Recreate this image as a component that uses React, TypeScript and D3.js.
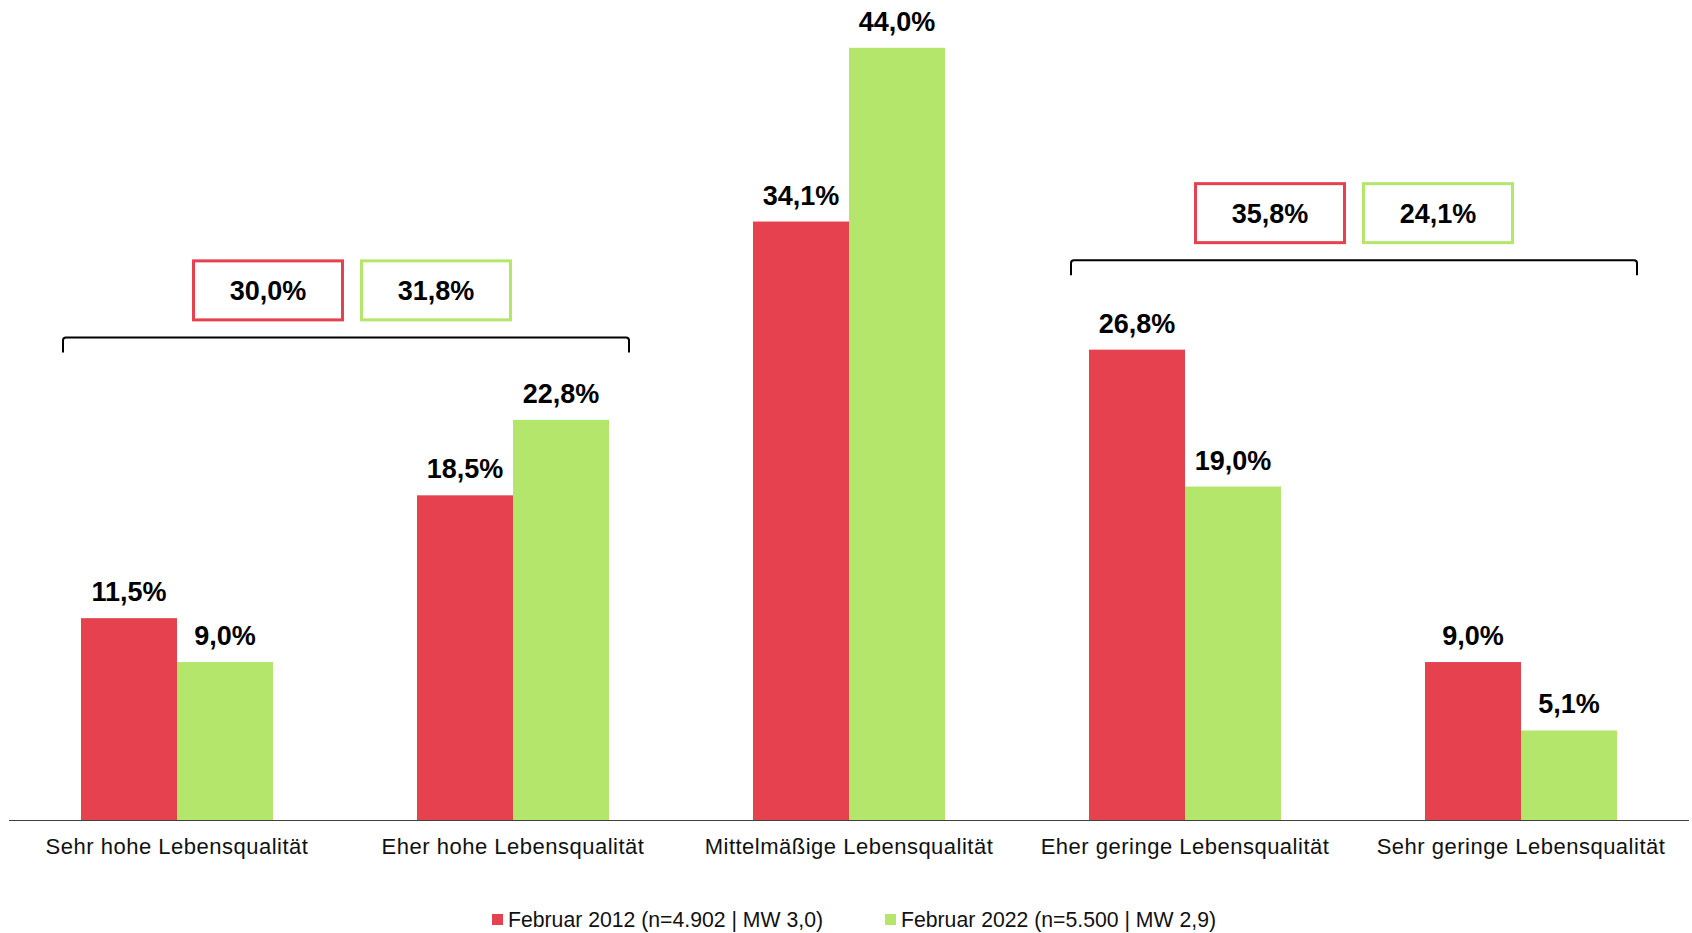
import React from "react";
import * as d3 from "d3";

const categories = [
  "Sehr hohe Lebensqualität",
  "Eher hohe Lebensqualität",
  "Mittelmäßige Lebensqualität",
  "Eher geringe Lebensqualität",
  "Sehr geringe Lebensqualität",
];
const values2012 = [11.5, 18.5, 34.1, 26.8, 9.0];
const values2022 = [9.0, 22.8, 44.0, 19.0, 5.1];
const seriesNames = ["Februar 2012 (n=4.902 | MW 3,0)", "Februar 2022 (n=5.500 | MW 2,9)"];
const groupIdx = [[0, 1], [3, 4]];
const groupSums2012 = [30.0, 35.8];
const groupSums2022 = [31.8, 24.1];
const bracketLevels = [27.5, 31.9];

const RED = "#E5414F";
const GREEN = "#B3E66A";
const FONT = "'Liberation Sans', Arial, Helvetica, sans-serif";

const fmt = (v: number) => v.toFixed(1).replace(".", ",") + "%";

export default function App() {
  const W = 1692, H = 933;
  const baseY = 820;
  const y = d3.scaleLinear().domain([0, 44]).range([baseY, baseY - 44 * 17.55]);
  const x = d3.scaleBand<string>().domain(categories).range([9, 1689]).padding(0);
  const barW = 96;
  const center = (i: number) => (x(categories[i]) as number) + x.bandwidth() / 2;

  const boxW = 152, boxH = 62, boxGap = 16;
  const pairOffsets = [6, 0];
  const valFS = 27;

  return (
    <svg width={W} height={H} style={{ position: "absolute", left: 0, top: 0, background: "#fff" }} fontFamily={FONT}>
      {categories.map((c, i) => {
        const cx = center(i);
        return (
          <g key={c}>
            <rect x={cx - barW} y={y(values2012[i])} width={barW} height={baseY - y(values2012[i])} fill={RED} />
            <rect x={cx} y={y(values2022[i])} width={barW} height={baseY - y(values2022[i])} fill={GREEN} />
            <text x={cx - barW / 2} y={y(values2012[i]) - 17} textAnchor="middle" fontSize={valFS} fontWeight="bold" fill="#000">
              {fmt(values2012[i])}
            </text>
            <text x={cx + barW / 2} y={y(values2022[i]) - 17} textAnchor="middle" fontSize={valFS} fontWeight="bold" fill="#000">
              {fmt(values2022[i])}
            </text>
            <text x={cx} y={854} textAnchor="middle" fontSize={22} letterSpacing={0.5} fill="#111">
              {c}
            </text>
          </g>
        );
      })}
      <line x1={9} x2={1689} y1={baseY + 0.5} y2={baseY + 0.5} stroke="#404040" strokeWidth={1.2} />

      {groupIdx.map((g, k) => {
        const x0 = center(g[0]) - barW - 18;
        const x1 = center(g[1]) + barW + 20;
        const by = y(bracketLevels[k]);
        const pc = (x0 + x1) / 2 + pairOffsets[k];
        const boxTop = by - 16 - boxH;
        const r = 3;
        const path = `M${x0},${by + 15} V${by + r} Q${x0},${by} ${x0 + r},${by} H${x1 - r} Q${x1},${by} ${x1},${by + r} V${by + 15}`;
        return (
          <g key={k}>
            <path d={path} fill="none" stroke="#000" strokeWidth={2} />
            <rect x={pc - boxGap / 2 - boxW + 1.5} y={boxTop + 1.5} width={boxW - 3} height={boxH - 3} fill="#fff" stroke={RED} strokeWidth={3} />
            <rect x={pc + boxGap / 2 + 1.5} y={boxTop + 1.5} width={boxW - 3} height={boxH - 3} fill="#fff" stroke={GREEN} strokeWidth={3} />
            <text x={pc - boxGap / 2 - boxW / 2} y={boxTop + boxH / 2 + 10} textAnchor="middle" fontSize={valFS} fontWeight="bold">
              {fmt(groupSums2012[k])}
            </text>
            <text x={pc + boxGap / 2 + boxW / 2} y={boxTop + boxH / 2 + 10} textAnchor="middle" fontSize={valFS} fontWeight="bold">
              {fmt(groupSums2022[k])}
            </text>
          </g>
        );
      })}

      {seriesNames.map((s, i) => {
        const lx = i === 0 ? 492 : 885;
        return (
          <g key={s}>
            <rect x={lx} y={914} width={11} height={11} fill={i === 0 ? RED : GREEN} />
            <text x={lx + 16} y={927} fontSize={22} textLength={315} lengthAdjust="spacingAndGlyphs" fill="#111">
              {s}
            </text>
          </g>
        );
      })}
    </svg>
  );
}
